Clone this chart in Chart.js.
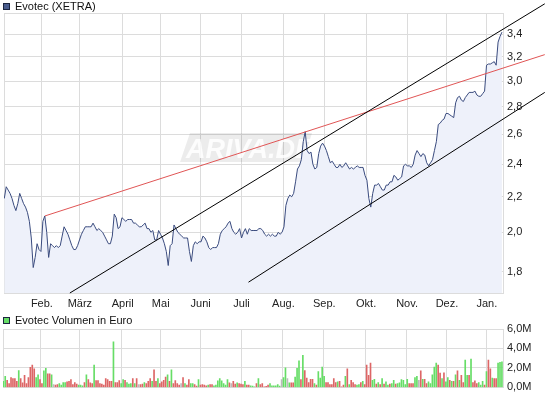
<!DOCTYPE html>
<html lang="de">
<head>
<meta charset="UTF-8" />
<title>Evotec (XETRA)</title>
<script src="https://cdn.jsdelivr.net/npm/chart.js"></script>
<style>
  body { margin: 0; background: #fff; font-family: "Liberation Sans", Arial, sans-serif; }
  #rahmen { position: relative; width: 545px; height: 398px; overflow: hidden; }
  #rahmen canvas { position: absolute; left: 0; }
  .legende { position: absolute; left: 3px; font-size: 11px; color: #111; line-height: 13px; display: flex; align-items: center; }
  .kaestchen { width: 5px; height: 5px; border: 1px solid #1c2540; margin-right: 5px; }
</style>
</head>
<body>
<div id="rahmen">
  <canvas id="kursChart" width="545" height="310" style="top:0"></canvas>
  <canvas id="volumenChart" width="545" height="88" style="top:310px"></canvas>
  <div class="legende" style="top:0"><span class="kaestchen" style="background:#4a5d8e"></span>Evotec (XETRA)</div>
  <div class="legende" style="top:314px"><span class="kaestchen" style="background:#66dd66"></span>Evotec Volumen in Euro</div>
</div>

<script>
  // Schlusskurse je Handelstag (Index 0 = erster Tag im Bild)
  const kurs = [
    2.19,2.26,2.24,2.22,2.19,2.15,2.12,2.16,2.22,2.19,
    2.16,2.14,2.11,2.06,1.97,1.82,1.87,1.94,1.91,1.90,
    2.06,2.09,2.00,1.87,1.94,1.93,1.92,1.93,1.92,1.93,
    1.98,2.03,2.01,1.99,1.96,1.93,1.91,1.91,1.93,1.96,
    1.99,2.01,2.03,2.03,2.03,2.03,2.05,2.03,2.01,2.02,
    2.01,2.00,1.98,1.96,1.94,1.94,1.98,2.10,2.08,2.02,
    2.03,2.08,2.07,2.06,2.07,2.07,2.07,2.05,2.05,2.04,
    2.03,2.03,2.04,2.05,2.02,2.02,2.00,2.01,1.96,1.96,
    2.01,1.99,1.97,1.94,1.90,1.83,1.93,1.94,2.04,2.02,
    2.00,1.99,1.98,1.97,1.97,1.97,1.90,1.85,1.93,1.95,
    1.94,1.95,1.95,1.98,1.97,1.95,1.92,1.91,1.92,1.92,
    1.92,1.94,1.99,2.01,2.02,2.03,2.05,2.06,2.02,2.00,
    1.99,2.00,2.02,1.97,2.00,2.02,1.99,2.02,2.01,2.01,
    2.01,2.01,2.02,2.02,2.01,1.99,1.98,1.99,1.98,1.99,
    1.98,1.98,2.00,1.99,2.00,2.03,2.15,2.19,2.21,2.20,
    2.22,2.29,2.37,2.39,2.43,2.55,2.62,2.49,2.47,2.48,
    2.40,2.37,2.38,2.47,2.52,2.54,2.52,2.49,2.45,2.41,
    2.42,2.40,2.38,2.38,2.40,2.38,2.39,2.41,2.39,2.37,
    2.38,2.37,2.38,2.39,2.38,2.38,2.38,2.33,2.30,2.19,
    2.14,2.22,2.27,2.27,2.28,2.26,2.24,2.24,2.27,2.27,
    2.29,2.29,2.33,2.32,2.30,2.31,2.32,2.39,2.40,2.39,
    2.39,2.38,2.40,2.46,2.49,2.47,2.45,2.47,2.46,2.41,
    2.39,2.41,2.43,2.49,2.55,2.67,2.68,2.70,2.71,2.75,
    2.75,2.74,2.73,2.72,2.83,2.87,2.88,2.85,2.84,2.87,
    2.89,2.91,2.91,2.91,2.92,2.89,2.88,2.88,2.90,2.92,
    3.13,3.14,3.14,3.15,3.16,3.13,3.33,3.38,3.42
  ];

  // Umsatz in Mio. Euro je Handelstag
  const volumenMio = [
    .63,1.13,.73,.40,1.00,.90,.90,.63,1.73,.90,
    .47,1.23,.40,1.00,2.07,2.30,1.90,1.00,1.30,.80,
    .40,1.70,1.97,1.40,1.40,1.30,.30,.23,.30,.40,
    .23,.50,.50,.57,.63,.80,.30,.50,.33,.23,
    .23,.17,.50,1.30,.80,.47,.40,2.30,.70,.70,
    .40,.33,.23,.90,.80,.63,.63,4.67,.50,.50,
    .70,.40,.80,.73,.50,.33,.40,.90,.40,.90,
    .30,.30,.33,.50,.40,.63,.90,.63,1.80,.63,
    .90,.40,.57,.73,1.07,1.30,.63,1.80,.40,.70,
    .40,.23,.40,1.00,.40,.23,.80,.40,.40,.30,
    .13,.80,.23,.30,.23,.17,.23,.30,.30,.17,
    .23,.67,.90,.67,.40,.23,.80,.47,.40,.63,
    .33,.47,.40,.33,.30,.63,.23,.23,.17,.13,
    .07,.40,.90,.30,.40,.07,.10,.23,.40,.17,
    .17,.17,.30,.13,.80,1.00,2.00,.90,.47,.47,
    .47,1.07,1.97,2.73,.80,3.30,1.73,.97,.50,.83,
    .83,.40,.23,1.63,.97,2.10,1.13,.50,.50,.30,
    .30,.90,.50,.57,.63,.07,.23,1.13,1.90,.30,
    .73,.50,.30,.23,.30,.50,.63,.30,2.30,1.23,
    2.50,.73,.83,.33,.50,.30,.90,.33,.57,.23,
    .33,.40,.73,.33,.40,.47,.80,.73,.30,.83,
    .40,.40,.40,1.00,1.13,.73,1.70,.83,.83,.40,
    .57,.40,1.30,2.10,2.50,2.30,1.47,.90,1.50,.57,
    1.00,.73,.63,.63,1.30,1.70,.73,1.23,.50,2.80,
    1.23,1.23,2.90,.50,.67,.40,.50,.23,.63,.23,
    1.63,2.80,1.90,.97,.90,.90,2.50,2.57,2.63
  ];

  // Tagestendenz: + gestiegen, - gefallen, = unverändert
  const tendenz = (
    '++------+-' + '-------++-' + '-++--+=--+' + '+++------+' + '++-+---+--' +
    '-------+--' + '-++-+++-+-' + '=--+---+--' + '+----+-+--' + '--=-+--++-' +
    '-+----+--+' + '+++++++-=-' + '-+---+--++' + '+-+-----++' + '++++=++=+-' +
    '-+++-+----' + '-+-++++---' + '---+---+-+' + '---++-+---' + '-++-+-+-++' +
    '-++-++++++' + '---++=-+--' + '+++++--+-+' + '+-+-+-+--+' + '+-+---+++-' +
    '+--+--+++'
  ).split('');

  // Monatsanfänge als Handelstag-Index
  const monate = ['Feb.', 'März', 'April', 'Mai', 'Juni', 'Juli', 'Aug.', 'Sep.', 'Okt.', 'Nov.', 'Dez.', 'Jan.'];
  const monatsAnfang = [19.5, 39.2, 61.4, 81.1, 101.8, 123.0, 144.7, 165.9, 187.6, 208.8, 229.5, 250.2];

  const kursTicks = [1.8, 2.0, 2.2, 2.4, 2.6, 2.8, 3.0, 3.2, 3.4];
  const volumenTicks = [0, 2, 4, 6];

  // Trendlinien: Anfangs- und Endpunkt (Index, Kurs)
  const widerstandTag = [21.1, 280.2];
  const widerstandKurs = [2.09, 3.22];
  const kanalObenTag = [34.0, 280.2];
  const kanalObenKurs = [1.70, 3.69];
  const kanalUntenTag = [126.6, 280.2];
  const kanalUntenKurs = [1.75, 2.91];

  const X_MIN = -0.15, X_MAX = 258.55;
  const Y_MIN = 1.7, Y_MAX = 3.6;
  const GITTER = '#dcdcdc';

  Chart.defaults.font.family = '"Liberation Sans", Arial, sans-serif';
  Chart.defaults.font.size = 11;
  Chart.defaults.color = '#222';

  const komma = v => v.toFixed(1).replace('.', ',');
  const punkte = (xs, ys) => xs.map((x, i) => ({ x: x, y: ys[i] }));

  function xAchse(beschriftung, hoehe) {
    return {
      type: 'linear',
      min: X_MIN,
      max: X_MAX,
      offset: false,
      grid: { color: GITTER, drawTicks: false, offset: false },
      border: { color: GITTER },
      afterBuildTicks: s => { s.ticks = [X_MIN, ...monatsAnfang].map(v => ({ value: v })); },
      ticks: {
        display: beschriftung,
        autoSkip: false,
        maxRotation: 0,
        padding: 4,
        callback: (v, i) => i === 0 ? '' : monate[i - 1]
      },
      afterFit: s => { s.height = hoehe; }
    };
  }

  // Wasserzeichen hinter den Linien
  const wasserzeichen = {
    id: 'wasserzeichen',
    beforeDatasetsDraw(chart) {
      const ctx = chart.ctx;
      ctx.save();
      ctx.fillStyle = 'rgba(0,0,0,0.075)';
      ctx.beginPath();
      ctx.moveTo(190, 133);
      ctx.lineTo(312, 133);
      ctx.lineTo(303, 162);
      ctx.lineTo(180, 162);
      ctx.closePath();
      ctx.fill();
      ctx.font = 'italic bold 27px "Liberation Sans", Arial, sans-serif';
      ctx.fillStyle = 'rgba(255,255,255,0.85)';
      ctx.fillText('ARIVA.DE', 186, 158);
      ctx.restore();
    }
  };

  new Chart(document.getElementById('kursChart'), {
    type: 'line',
    data: {
      datasets: [
        { data: punkte(kanalObenTag, kanalObenKurs), borderColor: '#000', borderWidth: 1, pointRadius: 0, clip: false, order: 0 },
        { data: punkte(kanalUntenTag, kanalUntenKurs), borderColor: '#000', borderWidth: 1, pointRadius: 0, clip: false, order: 0 },
        { data: punkte(widerstandTag, widerstandKurs), borderColor: '#e05555', borderWidth: 1, pointRadius: 0, clip: false, order: 1 },
        {
          label: 'Evotec (XETRA)',
          data: kurs.map((v, i) => ({ x: i, y: v })),
          borderColor: '#3a4b7e',
          borderWidth: 1,
          backgroundColor: '#eef1fa',
          fill: 'start',
          pointRadius: 0,
          tension: 0,
          order: 2
        }
      ]
    },
    options: {
      responsive: false,
      animation: false,
      layout: { padding: { left: 3, top: 13, right: 0, bottom: 0 } },
      plugins: { legend: { display: false }, tooltip: { enabled: false } },
      scales: {
        x: xAchse(true, 17),
        y: {
          type: 'logarithmic',
          position: 'right',
          min: Y_MIN,
          max: Y_MAX,
          grid: { color: GITTER, drawTicks: false },
          border: { color: GITTER },
          afterBuildTicks: s => { s.ticks = [...kursTicks, Y_MAX].map(v => ({ value: v })); },
          ticks: { padding: 4, callback: v => kursTicks.includes(v) ? komma(v) : '' },
          afterFit: s => { s.width = 42; }
        }
      }
    },
    plugins: [wasserzeichen]
  });

  const tendenzFarbe = { '+': '#66dd66', '-': '#dd6666', '=': '#bbbbbb' };

  new Chart(document.getElementById('volumenChart'), {
    type: 'bar',
    data: {
      datasets: [{
        label: 'Evotec Volumen in Euro',
        data: volumenMio.map((v, i) => ({ x: i, y: v })),
        backgroundColor: tendenz.map(t => tendenzFarbe[t]),
        barThickness: 1,
        borderWidth: 0
      }]
    },
    options: {
      responsive: false,
      animation: false,
      layout: { padding: { left: 3, top: 19, right: 0, bottom: 0 } },
      plugins: { legend: { display: false }, tooltip: { enabled: false } },
      scales: {
        x: xAchse(false, 9),
        y: {
          position: 'right',
          min: 0,
          max: 6,
          grid: { color: GITTER, drawTicks: false },
          border: { color: GITTER },
          afterBuildTicks: s => { s.ticks = volumenTicks.map(v => ({ value: v })); },
          ticks: { padding: 4, callback: v => komma(v) + 'M' },
          afterFit: s => { s.width = 42; }
        }
      }
    }
  });
</script>
</body>
</html>
